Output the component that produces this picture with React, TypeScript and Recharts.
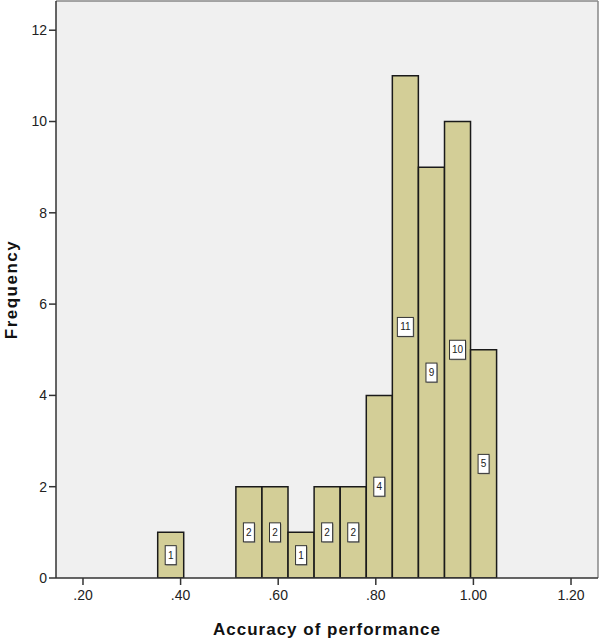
import React from "react";
import {
  ComposedChart,
  Bar,
  XAxis,
  YAxis,
  CartesianGrid,
  LabelList,
  ReferenceLine,
} from "recharts";

// bin centres (bin width ~0.0534)
const binCenters = [0.3798, 0.4332, 0.4866, 0.5400, 0.5935, 0.6469, 0.7003, 0.7538, 0.8072, 0.8606, 0.9141, 0.9675, 1.0209];
const frequencies = [1, 0, 0, 2, 2, 1, 2, 2, 4, 11, 9, 10, 5];

const xTicks = [0.2, 0.4, 0.6, 0.8, 1.0, 1.2];
const yTicks = [0, 2, 4, 6, 8, 10, 12];
const xDomain: [number, number] = [0.1447, 1.2553];
const yDomain: [number, number] = [0, 12.64];

const W = 600;
const H = 638;
const margin = { top: 1, right: 2, left: 0, bottom: 0 };
const yAxisWidth = 56;
const plotWidth = W - margin.left - margin.right - yAxisWidth;

// smallest gap between bin centres, in px; recharts shrinks bars if barSize >= that
let minStep = Infinity;
for (let i = 1; i < binCenters.length; i++) minStep = Math.min(minStep, binCenters[i] - binCenters[i - 1]);
const barPx = (minStep / (xDomain[1] - xDomain[0])) * plotWidth - 0.05;

const data = binCenters.map((x, i) => ({ x, count: frequencies[i] }));

const FONT = "Arial, 'Liberation Sans', sans-serif";

function fmtX(v: number) {
  // ".20", "1.00"
  const s = v.toFixed(2);
  return s.startsWith("0") ? s.slice(1) : s;
}

const CountBox = (props: any) => {
  const { x, y, width, height, value } = props;
  if (!value) return null;
  const cx = x + width / 2;
  const cy = y + height / 2;
  const w = String(value).length > 1 ? 16 : 11;
  const h = 19;
  return (
    <g>
      <rect x={cx - w / 2 + 1} y={cy - h / 2 + 1} width={w} height={h} fill="#9a9a8a" />
      <rect x={cx - w / 2} y={cy - h / 2} width={w} height={h} fill="#fff" stroke="#333" strokeWidth={1} />
      <text x={cx} y={cy + 3.5} textAnchor="middle" fontSize={10} fontFamily={FONT} fill="#222">
        {value}
      </text>
    </g>
  );
};

export default function App() {
  return (
    <div style={{ position: "absolute", left: 0, top: 0, background: "#fff" }}>
      <ComposedChart width={W} height={H} data={data} margin={margin}>
        <CartesianGrid fill="#F0F0F0" horizontal={false} vertical={false} />
        <XAxis
          dataKey="x"
          type="number"
          domain={xDomain}
          allowDataOverflow
          ticks={xTicks}
          tickFormatter={fmtX}
          height={60}
          tickSize={7}
          tickMargin={5}
          axisLine={{ stroke: "#333", strokeWidth: 1.5 }}
          tickLine={{ stroke: "#333", strokeWidth: 1.5 }}
          tick={{ fontSize: 14, fill: "#222", fontFamily: FONT }}
          label={{
            value: "Accuracy of performance",
            position: "insideBottom",
            offset: 3,
            style: { fontSize: 17, fontWeight: "bold", fill: "#111", fontFamily: FONT, letterSpacing: 1 },
          }}
        />
        <YAxis
          type="number"
          domain={yDomain}
          allowDataOverflow
          ticks={yTicks}
          width={yAxisWidth}
          tickSize={7}
          tickMargin={2}
          axisLine={{ stroke: "#333", strokeWidth: 1.5 }}
          tickLine={{ stroke: "#333", strokeWidth: 1.5 }}
          tick={{ fontSize: 14, fill: "#222", fontFamily: FONT }}
          label={{
            value: "Frequency",
            angle: -90,
            position: "center",
            dx: -17,
            style: { fontSize: 17, fontWeight: "bold", fill: "#111", fontFamily: FONT, letterSpacing: 1.5 },
          }}
        />
        <ReferenceLine y={yDomain[1]} stroke="#888" strokeWidth={1.5} />
        <ReferenceLine x={xDomain[1]} stroke="#888" strokeWidth={1.5} />
        <Bar
          dataKey="count"
          barSize={barPx}
          fill="#D3CE97"
          stroke="#1a1a1a"
          strokeWidth={1.5}
          isAnimationActive={false}
        >
          <LabelList dataKey="count" content={CountBox} />
        </Bar>
      </ComposedChart>
    </div>
  );
}
